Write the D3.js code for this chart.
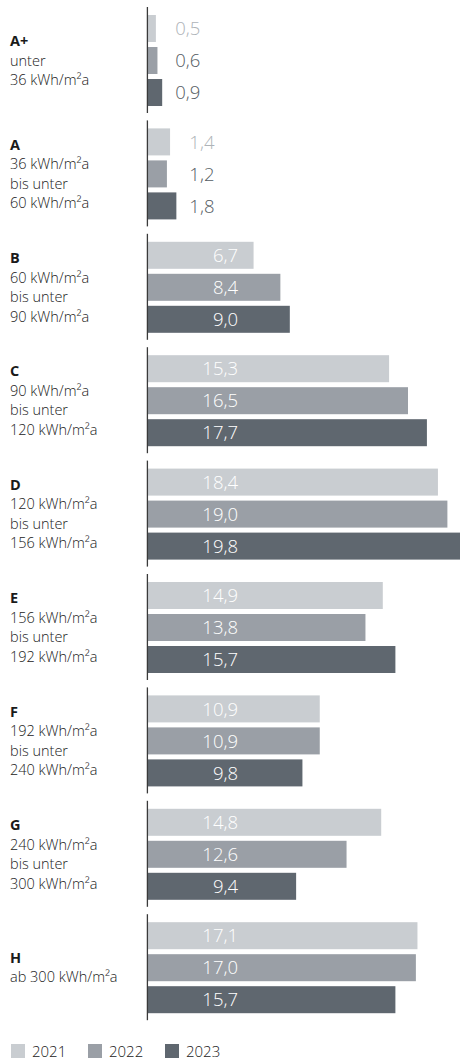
<!DOCTYPE html>
<html>
<head>
    <meta charset="utf-8">
    <title>Energieeffizienzklassen</title>
    <script src="https://d3js.org/d3.v7.min.js"></script>
    <style>
        body { margin: 0; background: #fff; }
        svg { display: block; font-family: "Open Sans", sans-serif; }
        .cat-label { font-size: 14.5px; fill: #222; font-weight: 300; }
        .cat-label .head { font-weight: 700; fill: #1a1a1a; }
        .value { font-size: 18.5px; font-weight: 300; }
        .legend text { font-size: 15px; fill: #222; font-weight: 300; }
    </style>
</head>
<body>
    <svg id="chart"></svg>

    <script>
        const categories = ["A+", "A", "B", "C", "D", "E", "F", "G", "H"];
        const categoryLines = [
            ["unter", "36 kWh/m²a"],
            ["36 kWh/m²a", "bis unter", "60 kWh/m²a"],
            ["60 kWh/m²a", "bis unter", "90 kWh/m²a"],
            ["90 kWh/m²a", "bis unter", "120 kWh/m²a"],
            ["120 kWh/m²a", "bis unter", "156 kWh/m²a"],
            ["156 kWh/m²a", "bis unter", "192 kWh/m²a"],
            ["192 kWh/m²a", "bis unter", "240 kWh/m²a"],
            ["240 kWh/m²a", "bis unter", "300 kWh/m²a"],
            ["ab 300 kWh/m²a"]
        ];
        const years = ["2021", "2022", "2023"];
        const values2021 = [0.5, 1.4, 6.7, 15.3, 18.4, 14.9, 10.9, 14.8, 17.1];
        const values2022 = [0.6, 1.2, 8.4, 16.5, 19.0, 13.8, 10.9, 12.6, 17.0];
        const values2023 = [0.9, 1.8, 9.0, 17.7, 19.8, 15.7, 9.8, 9.4, 15.7];

        const series = [values2021, values2022, values2023];
        const colors = ["#c9cdd1", "#9a9fa6", "#5f676f"];
        const outsideColors = ["#aeb3b8", "#555c63", "#555c63"];

        const svgWidth = 462;
        const svgHeight = 1061;

        const svg = d3.select("#chart")
            .attr("width", svgWidth)
            .attr("height", svgHeight);

        const data = categories.map((c, i) => ({
            cat: c,
            lines: categoryLines[i],
            vals: years.map((y, j) => ({ year: y, idx: j, value: series[j][i] }))
        }));

        const xScale = d3.scaleLinear()
            .domain([0, 19.8])
            .range([148, 460]);

        const yGroup = d3.scaleBand()
            .domain(categories)
            .range([15, 1013.2])
            .paddingInner(0.1975);

        const yInner = d3.scaleBand()
            .domain(years)
            .range([0, yGroup.bandwidth()])
            .paddingInner(5 / 32);

        const groups = svg.selectAll("g.group")
            .data(data)
            .join("g")
            .attr("class", "group")
            .attr("transform", d => `translate(0, ${yGroup(d.cat)})`);

        groups.selectAll("rect")
            .data(d => d.vals)
            .join("rect")
            .attr("x", xScale(0))
            .attr("y", d => yInner(d.year))
            .attr("width", d => xScale(d.value) - xScale(0))
            .attr("height", yInner.bandwidth())
            .attr("fill", d => colors[d.idx]);

        const fmt = v => d3.format(".1f")(v).replace(".", ",");

        groups.each(function (g) {
            const maxVal = d3.max(g.vals, d => d.value);
            const outside = maxVal < 3;
            d3.select(this).selectAll("text.value")
                .data(g.vals)
                .join("text")
                .attr("class", "value")
                .attr("x", outside ? xScale(maxVal) + 13 : xScale(0) + 90)
                .attr("y", d => yInner(d.year) + yInner.bandwidth() / 2)
                .attr("dy", "0.36em")
                .attr("text-anchor", outside ? "start" : "end")
                .attr("fill", d => outside ? outsideColors[d.idx] : "#fff")
                .text(d => fmt(d.value));
        });

        // axis segment per group
        groups.append("line")
            .attr("x1", xScale(0) - 0.6)
            .attr("x2", xScale(0) - 0.6)
            .attr("y1", -8)
            .attr("y2", yGroup.bandwidth() + 7)
            .attr("stroke", "#3a3a3a")
            .attr("stroke-width", 1.3);

        // category labels
        const lineH = 19.5;
        groups.each(function (g) {
            const n = g.lines.length + 1;
            const center = yGroup.bandwidth() / 2;
            const first = center - (n - 1) * lineH / 2 + 5;
            const t = d3.select(this).append("text")
                .attr("class", "cat-label")
                .attr("x", 10)
                .attr("y", first);
            t.append("tspan")
                .attr("class", "head")
                .attr("x", 10)
                .attr("y", first)
                .text(g.cat);
            g.lines.forEach((l, k) => {
                t.append("tspan")
                    .attr("x", 10)
                    .attr("y", first + (k + 1) * lineH)
                    .text(l);
            });
        });

        // legend
        const legendX = [11, 88, 165];
        const legend = svg.append("g")
            .attr("class", "legend")
            .attr("transform", "translate(0, 1044)");

        const items = legend.selectAll("g")
            .data(years)
            .join("g")
            .attr("transform", (d, i) => `translate(${legendX[i]}, 0)`);

        items.append("rect")
            .attr("width", 14)
            .attr("height", 14)
            .attr("fill", (d, i) => colors[i]);

        items.append("text")
            .attr("x", 21)
            .attr("y", 13)
            .text(d => d);
    </script>
</body>
</html>
